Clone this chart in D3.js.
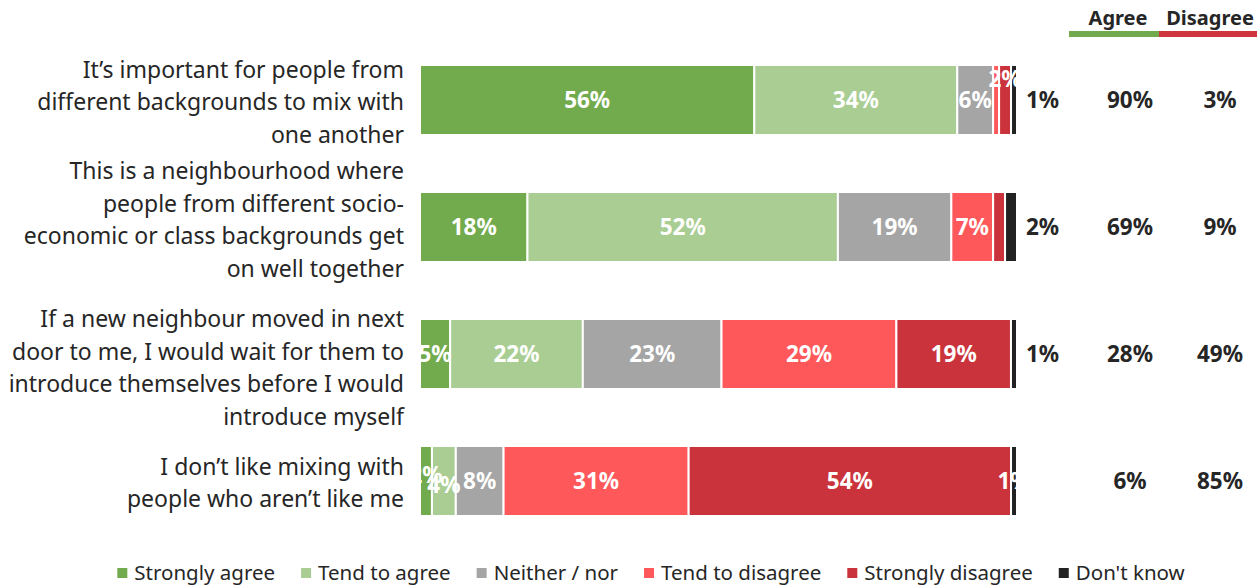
<!DOCTYPE html>
<html>
<head>
<meta charset="utf-8">
<script src="https://cdn.jsdelivr.net/npm/d3@7"></script>
<style>
  html, body { margin: 0; padding: 0; background: #fff; }
  svg { display: block; font-family: "Noto Sans", "Open Sans", sans-serif; }
</style>
</head>
<body>
<svg id="chart" width="1260" height="586"></svg>
<script>
// Survey statements, one wrapped label per bar
const statements = [
  ["It\u2019s important for people from", "different backgrounds to mix with", "one another"],
  ["This is a neighbourhood where", "people from different socio-", "economic or class backgrounds get", "on well together"],
  ["If a new neighbour moved in next", "door to me, I would wait for them to", "introduce themselves before I would", "introduce myself"],
  ["I don\u2019t like mixing with", "people who aren\u2019t like me"]
];

const seriesNames = ["Strongly agree", "Tend to agree", "Neither / nor", "Tend to disagree", "Strongly disagree", "Don't know"];

// Percentages per response, one array per statement (same order as seriesNames)
const stronglyAgree    = [56, 18, 5, 2];
const tendToAgree      = [34, 52, 22, 4];
const neitherNor       = [6, 19, 23, 8];
const tendToDisagree   = [1, 7, 29, 31];
const stronglyDisagree = [2, 2, 19, 54];
const dontKnow         = [1, 2, 1, 1];

// Net totals shown in the right-hand columns
const netAgree    = [90, 69, 28, 6];
const netDisagree = [3, 9, 49, 85];

const colors = ["#72ab4d", "#a9cd93", "#a5a5a5", "#ff585b", "#cb333c", "#222222"];

// Segment labels that are left off because the segment is too thin
const hiddenLabels = [[0, 3], [1, 4]];
// Whether the "Don't know" label sits outside the bar in dark text
const dkOutside = [true, true, true, false];

const svg = d3.select("#chart");
const textColor = "#262626";

const rows = d3.range(statements.length);
const series = [stronglyAgree, tendToAgree, neitherNor, tendToDisagree, stronglyDisagree, dontKnow];

// 100% stacked: normalise each row to its own total
const table = rows.map(i => {
  const vals = series.map(s => s[i]);
  const total = d3.sum(vals);
  let cum = 0;
  return vals.map((v, k) => {
    const seg = { row: i, k, value: v, x0: cum / total * 100, x1: (cum + v) / total * 100 };
    cum += v;
    return seg;
  });
});

const x = d3.scaleLinear().domain([0, 100]).range([420, 1017]);
const y = d3.scaleBand().domain(rows).range([36.5, 544.5]).paddingInner(57 / 127).paddingOuter(57 / 254);

const isHidden = (r, k) => hiddenLabels.some(h => h[0] === r && h[1] === k);

// Bars
const gBars = svg.append("g");
table.forEach((segs, i) => {
  gBars.selectAll(null)
    .data(segs)
    .enter().append("rect")
    .attr("x", d => x(d.x0))
    .attr("y", y(i))
    .attr("width", d => Math.max(0, x(d.x1) - x(d.x0)))
    .attr("height", y.bandwidth())
    .attr("fill", d => colors[d.k])
    .attr("stroke", "#fff")
    .attr("stroke-width", 2);
});

// Segment value labels; crowded labels on thin segments are nudged vertically
const labelNudge = { "0-4": -21, "3-0": -6, "3-1": 4 };
const gLabels = svg.append("g")
  .attr("font-weight", 700)
  .attr("font-size", 22.5);
table.forEach((segs, i) => {
  const cy = y(i) + y.bandwidth() / 2;
  segs.forEach(d => {
    if (isHidden(i, d.k)) return;
    const outside = d.k === 5 && dkOutside[i];
    gLabels.append("text")
      .attr("x", outside ? x(d.x1) + 9 : (x(d.x0) + x(d.x1)) / 2)
      .attr("y", cy + (labelNudge[i + "-" + d.k] || 0))
      .attr("dy", "0.35em")
      .attr("text-anchor", outside ? "start" : "middle")
      .attr("fill", outside ? textColor : "#fff")
      .text(d.value + "%");
  });
});

// Category labels, right aligned against the bars
const labelShift = [2, -7, 14, 2];
const gCats = svg.append("g")
  .attr("font-size", 23)
  .attr("fill", textColor)
  .attr("text-anchor", "end");
const lineH = 32.5;
statements.forEach((lines, i) => {
  const cy = y(i) + y.bandwidth() / 2 + labelShift[i];
  const top = cy - (lines.length - 1) * lineH / 2;
  const t = gCats.append("text");
  lines.forEach((ln, j) => {
    t.append("tspan")
      .attr("x", 404)
      .attr("y", top + j * lineH)
      .attr("dy", "0.35em")
      .text(ln);
  });
});

// Net columns
const colAgree = 1130, colDisagree = 1220;
const gNet = svg.append("g")
  .attr("font-weight", 700)
  .attr("font-size", 22.5)
  .attr("fill", textColor)
  .attr("text-anchor", "middle");
rows.forEach(i => {
  const cy = y(i) + y.bandwidth() / 2;
  gNet.append("text").attr("x", colAgree).attr("y", cy).attr("dy", "0.35em").text(netAgree[i] + "%");
  gNet.append("text").attr("x", colDisagree).attr("y", cy).attr("dy", "0.35em").text(netDisagree[i] + "%");
});

// Column headers with coloured underlines
const gHead = svg.append("g")
  .attr("font-weight", 700)
  .attr("font-size", 20)
  .attr("fill", textColor)
  .attr("text-anchor", "middle");
gHead.append("text").attr("x", 1118).attr("y", 25).text("Agree");
gHead.append("text").attr("x", 1210).attr("y", 25).text("Disagree");
svg.append("rect").attr("x", 1069).attr("y", 31).attr("width", 90).attr("height", 6).attr("fill", "#72ab4d");
svg.append("rect").attr("x", 1159).attr("y", 31).attr("width", 98).attr("height", 6).attr("fill", "#d0343e");

// Legend
const gLeg = svg.append("g").attr("font-size", 20.5).attr("fill", textColor);
const legY = 573;
const items = seriesNames.map((name, k) => {
  const g = gLeg.append("g");
  g.append("rect").attr("x", 0).attr("y", legY - 5).attr("width", 10).attr("height", 10).attr("fill", colors[k]);
  const t = g.append("text").attr("x", 17).attr("y", legY).attr("dy", "0.35em").text(name);
  const w = 17 + t.node().getComputedTextLength();
  return { g, w };
});
const gap = 26;
const totalW = d3.sum(items, d => d.w) + gap * (items.length - 1);
let lx = 651 - totalW / 2;
items.forEach(it => {
  it.g.attr("transform", `translate(${lx},0)`);
  lx += it.w + gap;
});
</script>
</body>
</html>
